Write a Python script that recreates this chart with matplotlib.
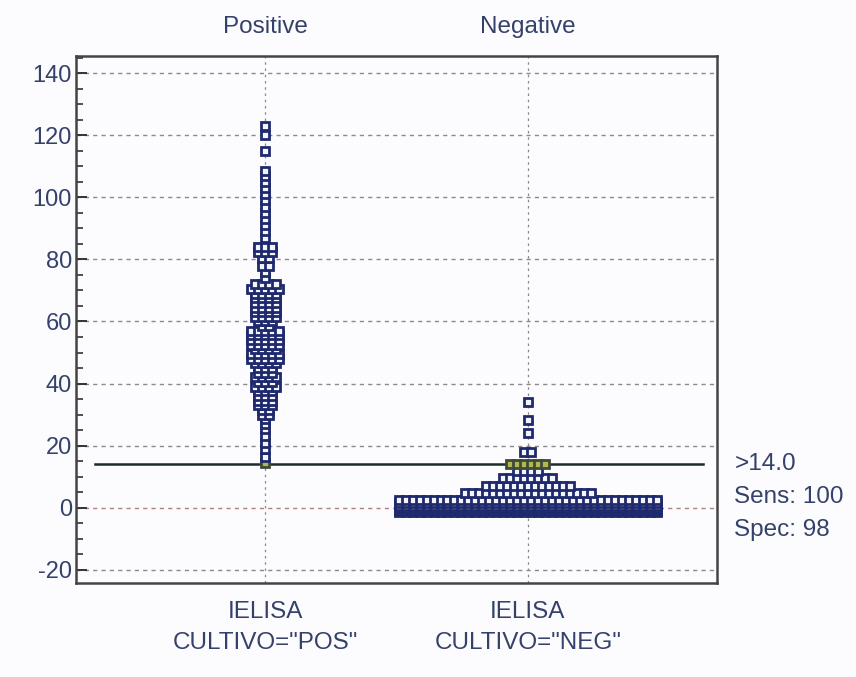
import numpy as np
import matplotlib
matplotlib.use("Agg")
import matplotlib.pyplot as plt
from matplotlib.transforms import blended_transform_factory

plt.rcParams['font.family'] = ['Liberation Sans', 'DejaVu Sans']
plt.rcParams['axes.unicode_minus'] = False

# group names and axis labels
groups = ['Positive', 'Negative']
group_labels = ['IELISA\nCULTIVO="POS"', 'IELISA\nCULTIVO="NEG"']
y_ticks = [-20, 0, 20, 40, 60, 80, 100, 120, 140]

# IELISA values per group: distinct levels and how many samples sit on each
pos_levels = [123, 120, 115,
              108.5, 107, 105, 103, 101, 99, 97, 95, 93, 91, 89, 87,
              84, 82.5, 80.5, 78, 76, 74,
              72, 70.5, 69, 67.5, 66, 64.5, 63, 61.5, 60, 58.5,
              57, 55.5, 54, 52.5, 51, 49.5, 48, 46.5, 45, 43.5,
              42, 40.5, 39, 37.5, 36, 34.5, 33, 31.5, 30, 28.5, 27,
              25.5, 23, 21, 19, 16.5, 14.5]
pos_counts = [1, 1, 1,
              1, 1, 1, 1, 1, 1, 1, 1, 1, 1, 1, 1,
              3, 3, 2, 2, 1, 1,
              4, 5, 4, 4, 4, 4, 4, 4, 3, 2,
              5, 5, 5, 5, 4, 5, 5, 4, 3, 3,
              4, 3, 4, 3, 3, 3, 3, 2, 2, 1, 1,
              1, 1, 1, 1, 1, 1]

neg_levels = [-1.5, -1, -0.5, 0, 0.5, 1.5, 2.5, 4.8, 7, 9.5, 12, 14, 18, 24, 28.3, 34]
neg_counts = [38, 38, 38, 38, 38, 38, 38, 19, 13, 8, 4, 6, 2, 1, 1, 1]

cutoff = 14.0
stats = ['>14.0', 'Sens: 100', 'Spec: 98']

navy = '#1f2a6e'
text_col = '#34416a'
dx = 0.0266  # horizontal step between neighbouring dots (x units)

fig = plt.figure(figsize=(8.56, 6.77), dpi=100, facecolor='#fcfcfe')
ax = fig.add_axes([0.0888, 0.1389, 0.7488, 0.7784])
ax.set_facecolor('#fcfcfe')
ax.set_xlim(0.28, 2.72)
ax.set_ylim(-24.2, 145.5)

# grid
for v in y_ticks:
    ax.axhline(v, color='#b08080' if v == 0 else '#8a8a8a', lw=1.0,
               ls=(0, (3, 3)), zorder=1)
for xc in (1, 2):
    ax.axvline(xc, color='#8a8a8a', lw=0.9, ls=(0, (2, 3)), zorder=1)

# cut-off line
ax.plot([0.354, 2.665], [cutoff, cutoff], color='#1b2b2b', lw=1.8, zorder=2)


def draw_dots(center, levels, counts):
    order = np.argsort(levels)
    for i in order:
        n = counts[i]
        xs = center + (np.arange(n) - (n - 1) / 2) * dx
        ys = np.full(n, levels[i])
        near_cut = abs(levels[i] - cutoff) <= 1.0
        ax.plot(xs, ys, 's', ms=5.6, mew=2.0,
                mfc='#b3b84e' if near_cut else '#f4f5fb',
                mec='#3d4a3a' if near_cut else navy,
                ls='none', zorder=3)


draw_dots(1, pos_levels, pos_counts)
draw_dots(2, neg_levels, neg_counts)

# axes styling
for sp in ax.spines.values():
    sp.set_color('#444444')
    sp.set_linewidth(1.8)
ax.set_yticks(y_ticks)
ax.set_yticks(np.arange(-20, 146, 5), minor=True)
ax.tick_params(axis='y', which='major', direction='in', length=8, width=1.4,
               labelsize=17, labelcolor=text_col, color='#333333', pad=3)
ax.tick_params(axis='y', which='minor', direction='in', length=5, width=1.2,
               color='#333333')
ax.set_xticks([1, 2])
ax.set_xticklabels(group_labels, fontsize=17.5, color=text_col, linespacing=1.55)
ax.tick_params(axis='x', length=0, pad=13)

top = blended_transform_factory(ax.transData, ax.transAxes)
for xc, name in zip((1, 2), groups):
    ax.text(xc, 1.035, name, transform=top, ha='center', va='bottom',
            fontsize=17.5, color=text_col)

# criterion and performance text at the right of the cut-off
for k, s in enumerate(stats):
    ax.text(1.027, cutoff - k * 10.5, s, transform=ax.get_yaxis_transform(),
            ha='left', va='center', fontsize=17.5, color=text_col, clip_on=False)

fig.savefig('out.png', dpi=100, facecolor=fig.get_facecolor())
